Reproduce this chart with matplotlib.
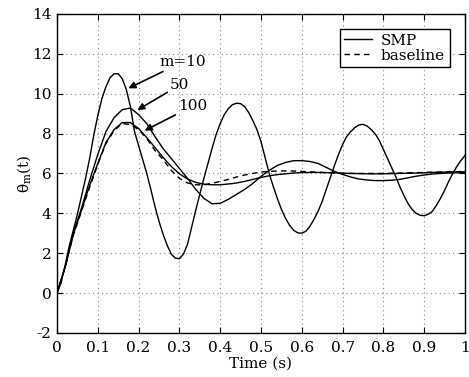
import matplotlib
matplotlib.use('Agg')
import matplotlib.pyplot as plt
import numpy as np

plt.rcParams['font.family'] = 'DejaVu Serif'
plt.rcParams['mathtext.fontset'] = 'dejavuserif'
plt.rcParams['axes.unicode_minus'] = False

# time grids (s)
t_fine = [i / 100 for i in range(101)]
t_coarse = [i / 50 for i in range(51)]

# SMP, m=10 (0.01 s step)
smp_m10 = [0.0, 0.5, 1.4, 2.35, 3.15, 3.95, 4.85, 5.75, 6.75, 7.9,
           8.9, 9.75, 10.35, 10.8, 11.0, 11.0, 10.75, 10.2, 9.35, 8.1,
           7.4, 6.7, 6.0, 5.2, 4.35, 3.6, 2.95, 2.4, 1.95, 1.75,
           1.72, 1.95, 2.45, 3.3, 4.15, 4.95, 5.75, 6.5, 7.25, 7.95,
           8.5, 8.95, 9.25, 9.45, 9.52, 9.5, 9.35, 9.05, 8.65, 8.2,
           7.6, 6.8, 6.0, 5.35, 4.75, 4.2, 3.75, 3.4, 3.15, 3.02,
           3.0, 3.1, 3.35, 3.7, 4.1, 4.6, 5.2, 5.8, 6.4, 6.95,
           7.45, 7.85, 8.1, 8.3, 8.43, 8.46, 8.38, 8.2, 7.98, 7.65,
           7.2, 6.75, 6.3, 5.85, 5.35, 4.9, 4.5, 4.2, 4.0, 3.9,
           3.88, 3.95, 4.1, 4.4, 4.75, 5.15, 5.6, 6.0, 6.35, 6.65,
           6.9]

# SMP, m=50 (0.02 s step)
smp_m50 = [0.0, 1.3, 3.0, 4.25, 5.65, 6.95, 8.1, 8.8, 9.2, 9.28,
           8.95, 8.5, 7.85, 7.25, 6.75, 6.25, 5.75, 5.2, 4.75, 4.48,
           4.5, 4.7, 4.95, 5.2, 5.5, 5.85, 6.15, 6.4, 6.55, 6.64,
           6.64, 6.6, 6.5, 6.3, 6.1, 5.95, 5.82, 5.72, 5.67, 5.64,
           5.64, 5.66, 5.7, 5.78, 5.86, 5.92, 5.97, 6.0, 6.02, 6.03,
           6.04]

# SMP, m=100 (0.02 s step)
smp_m100 = [0.0, 1.3, 2.95, 4.15, 5.4, 6.5, 7.55, 8.2, 8.55, 8.55,
            8.25, 7.8, 7.3, 6.8, 6.35, 5.98, 5.72, 5.55, 5.46, 5.43,
            5.43, 5.47, 5.52, 5.6, 5.7, 5.8, 5.88, 5.94, 5.98, 6.02,
            6.04, 6.05, 6.05, 6.04, 6.03, 6.01, 6.0, 5.99, 5.98, 5.98,
            5.98, 5.99, 6.0, 6.01, 6.02, 6.03, 6.05, 6.06, 6.07, 6.08,
            6.08]

# baseline (0.02 s step)
baseline = [0.0, 1.3, 2.9, 4.1, 5.3, 6.45, 7.5, 8.15, 8.5, 8.45,
            8.2, 7.75, 7.15, 6.7, 6.15, 5.75, 5.52, 5.43, 5.43, 5.5,
            5.6, 5.7, 5.82, 5.92, 6.0, 6.07, 6.1, 6.12, 6.13, 6.12,
            6.1, 6.08, 6.06, 6.04, 6.02, 6.0, 6.0, 6.0, 6.0, 6.0,
            6.0, 6.01, 6.02, 6.03, 6.04, 6.05, 6.06, 6.07, 6.08, 6.09,
            6.1]

fig = plt.figure(figsize=(4.69, 3.77), dpi=100)
ax = fig.add_axes([0.1215, 0.117, 0.87, 0.846])

ax.plot(t_fine, smp_m10, color='black', lw=1.0, label='SMP')
ax.plot(t_coarse, smp_m50, color='black', lw=1.0)
ax.plot(t_coarse, smp_m100, color='black', lw=1.0)
ax.plot(t_coarse, baseline, color='black', lw=1.0, dashes=(4, 3), label='baseline')

# arrows pointing at curves
for txt, tip, tail in [('m=10', (0.175, 10.27), (0.252, 11.6)),
                       ('50', (0.197, 9.18), (0.277, 10.43)),
                       ('100', (0.215, 8.15), (0.297, 9.38))]:
    ax.annotate(txt, xy=tip, xytext=tail, fontsize=11, va='center', ha='left',
                arrowprops=dict(arrowstyle='-|>', color='black', lw=1.2,
                                mutation_scale=10, shrinkA=0, shrinkB=0))

ax.set_xlim(0, 1)
ax.set_ylim(-2, 14)
ax.set_xticks(np.arange(0, 1.01, 0.1))
ax.set_xticklabels(['0', '0.1', '0.2', '0.3', '0.4', '0.5', '0.6', '0.7', '0.8', '0.9', '1'])
ax.set_yticks(range(-2, 15, 2))
ax.tick_params(direction='in', top=True, right=True, labelsize=11, length=4)
ax.tick_params(axis='x', pad=6)
ax.tick_params(axis='y', pad=4)
ax.grid(True, linestyle=(0, (1, 3)), color='#888888', lw=0.8)
for s in ax.spines.values():
    s.set_linewidth(1.0)

ax.set_xlabel('Time (s)', fontsize=11, labelpad=1)
ax.set_ylabel(r'$\mathrm{\theta_m(t)}$', fontsize=11, labelpad=-1)

leg = ax.legend(loc='upper right', fontsize=11, fancybox=False, edgecolor='black',
                framealpha=1, handlelength=1.8, borderpad=0.3, labelspacing=0.05,
                handletextpad=0.6, borderaxespad=1.0)
leg.get_frame().set_linewidth(1.0)

fig.savefig('out.png', dpi=100)
